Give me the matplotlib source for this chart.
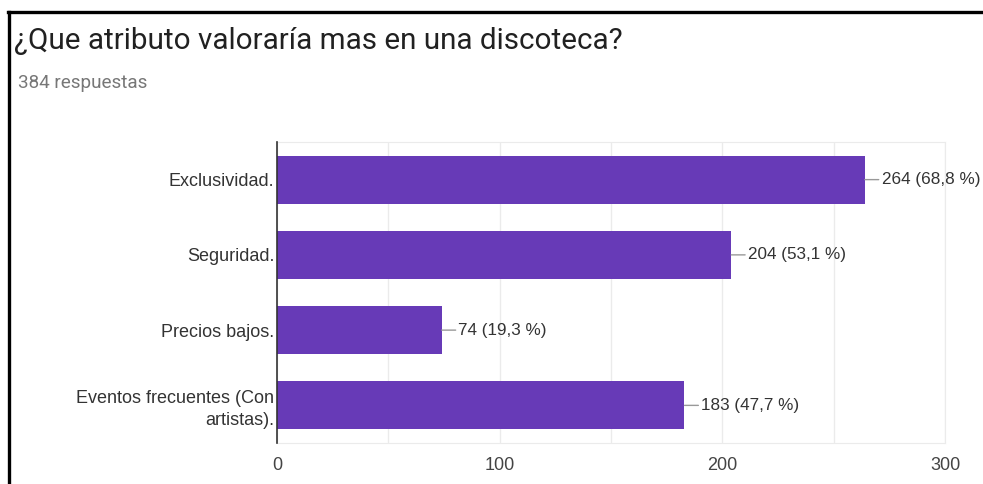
import matplotlib
matplotlib.use("Agg")
import matplotlib.pyplot as plt
from matplotlib.lines import Line2D

# Data
categorias = ["Exclusividad.", "Seguridad.", "Precios bajos.",
              "Eventos frecuentes (Con\nartistas)."]
respuestas = [264, 204, 74, 183]
porcentajes = ["68,8", "53,1", "19,3", "47,7"]
total = 384
xticks = [0, 100, 200, 300]

W, H = 983, 484
fig = plt.figure(figsize=(W / 100, H / 100), dpi=100)
fig.patch.set_facecolor("white")

# black frame lines (top and left)
fig.add_artist(Line2D([8 / W, 1], [1 - 11.5 / H, 1 - 11.5 / H], color="black", lw=2.4))
fig.add_artist(Line2D([9 / W, 9 / W], [0, 1 - 11.5 / H], color="black", lw=2.4))

# title and subtitle
fig.text(14 / W, 1 - 41 / H, "¿Que atributo valoraría mas en una discoteca?",
         family="Roboto", fontsize=21.3, color="#212121", va="center", ha="left")
fig.text(18 / W, 1 - 83 / H, f"{total} respuestas",
         family="Roboto", fontsize=13.6, color="#777777", va="center", ha="left")

ax = fig.add_axes([277 / W, (H - 443) / H, (945 - 277) / W, (443 - 142) / H])
pos = list(range(len(categorias)))
ax.barh(pos, respuestas, height=0.64, color="#673ab7", zorder=3)

ax.set_xlim(0, 300)
ax.set_ylim(len(categorias) - 0.5, -0.5)
ax.set_xticks(xticks)
ax.set_xticks(range(0, 301, 50), minor=True)
ax.set_yticks(pos)
ax.set_yticklabels(categorias, family="Liberation Sans", fontsize=13,
                   color="#333333", ha="right", linespacing=1.35)
ax.set_xticklabels([str(t) for t in xticks], family="Liberation Sans",
                   fontsize=13, color="#444444")
ax.tick_params(axis="both", which="both", length=0)
ax.tick_params(axis="y", pad=2)
ax.tick_params(axis="x", pad=10)
ax.grid(axis="x", which="both", color="#ebebeb", lw=1, zorder=0)

for side in ["top", "right", "bottom"]:
    ax.spines[side].set_color("#ebebeb")
ax.spines["left"].set_color("#333333")
ax.spines["left"].set_linewidth(1.2)
ax.spines["left"].set_zorder(4)

for p, v, pc in zip(pos, respuestas, porcentajes):
    ax.annotate(f"{v} ({pc} %)", xy=(v, p), xytext=(12, 0),
                textcoords="offset points", ha="left", va="center",
                family="Liberation Sans", fontsize=12.3, color="#333333",
                arrowprops=dict(arrowstyle="-", color="#999999", lw=1,
                                shrinkA=0, shrinkB=0, relpos=(0, 0.5)),
                annotation_clip=False, zorder=5)

fig.savefig("out.png", dpi=100, facecolor="white")
